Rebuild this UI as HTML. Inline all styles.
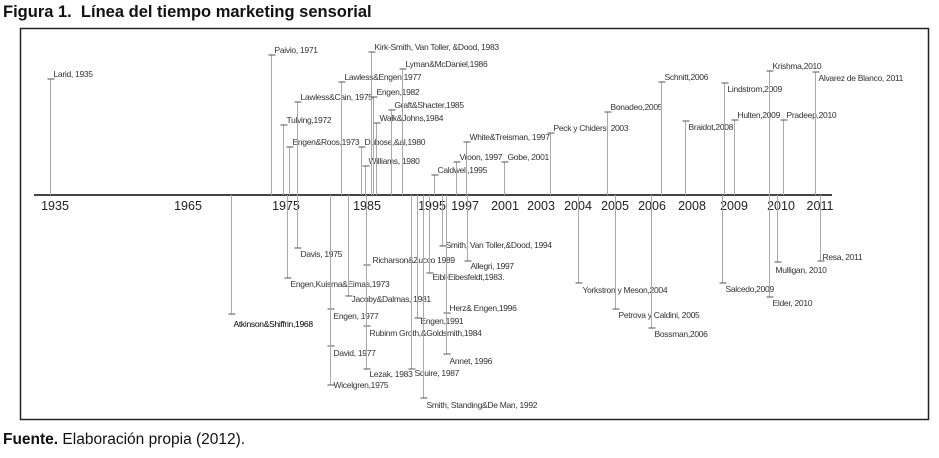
<!DOCTYPE html>
<html><head><meta charset="utf-8">
<style>
html,body{margin:0;padding:0;background:#fff;}
body{width:939px;height:458px;position:relative;overflow:hidden;font-family:"Liberation Sans",sans-serif;}
#title{position:absolute;left:3px;top:3px;font-size:16.5px;font-weight:bold;color:#111;}
#foot{position:absolute;left:3px;top:431px;font-size:15.5px;color:#111;}
svg{position:absolute;left:0;top:0;}
</style></head>
<body>
<div id="title">Figura 1.&nbsp; Línea del tiempo marketing sensorial</div>
<div id="foot"><b>Fuente.</b> Elaboración propia (2012).</div>
<svg id="chart" width="939" height="458">
<rect x="20.5" y="28.5" width="908" height="391" fill="none" stroke="#222" stroke-width="1.5"/>
</svg>
<script>
// axis year labels and their positions on the timeline (timeline units)
const yearLabels = ["1935","1965","1975","1985","1995","1997","2001","2003","2004","2005","2006","2008","2009","2010","2011"];
const yearPos = [35,168,266,347,412,445,485,521,558,595,632,672,714,761,800];
// events: label, timeline position, stem height (+ above axis, - below)
const eventNames = ["Larid, 1935","Paivio, 1971","Tulving,1972","Engen&Roos,1973","Lawless&Cain, 1975","Lawless&Engen,1977","Dubose,&al,1980","Williams, 1980","Kirk-Smith, Van Toller, &Dood, 1983","Engen,1982","Walk&Johns,1984","Graft&Shacter,1985","Lyman&McDaniel,1986","Caldwell,1995","Vroon, 1997","White&Treisman, 1997","Gobe, 2001","Peck y Chiders, 2003","Bonadeo,2005","Schnitt,2006","Braidot,2008","Lindstrom,2009","Hulten,2009","Krishma,2010","Pradeep,2010","Alvarez de Blanco, 2011",
"Atkinson&Shiffrin,1968","Engen,Kuisma&Eimas,1973","Davis, 1975","Engen, 1977","David, 1977","Wicelgren,1975","Jacoby&Dalmas, 1981","Richarson&Zucco 1989","Rubinm Groth,&Goldsmith,1984","Lezak, 1983","Squire, 1987","Engen,1991","Smith, Standing&De Man, 1992","Eibl-Eibesfeldt,1983.","Smith, Van Toller,&Dood, 1994","Herz& Engen,1996","Annet, 1996","Allegri, 1997","Yorkstron y Meson,2004","Petrova y Caldini, 2005","Bossman,2006","Salcedo,2009","Elder, 2010","Mulligan, 2010","Resa, 2011"];
const eventPos = [30,251,263,269,277,321,341,345,351,353,356,371,382,414,436,446,484,530,587,641,665,704,714,749,763,795,
211,267,277,310,310,310,328,346,346,346,391,397,403,409,422,426,426,447,558,595,631,702,749,757,800];
const eventHeight = [116,140,70,48,93,113,48,29,143,98,72,85,126,20,33,53,33,62,83,113,74,112,75,124,75,123,
-119,-83,-53,-114,-151,-190,-101,-70,-131,-174,-174,-123,-203,-78,-51,-118,-159,-66,-88,-114,-133,-88,-102,-67,-66];
// label offsets (layout)
const labelDy = [-2,-2,-2,-2,-2,-2,-2,-2,-2,-2,-2,-2,-2,-2,-2,-2,-2,-2,-2,-2,9,9,-2,-2,-2,9,
13,9,9,10,10,3,6,-2,10,8,7,6,10,7,2,-2,10,8,10,9,9,9,9,11,-1];
const labelDx = [3,3,3,3,3,3,3,3,3,3,3,3,3,3,3,3,3,3,3,3,3,3,3,3,3,3,
2,3,3,3,3,3,3,6,3,3,3,3,3,3,3,3,3,3,4,3,3,3,3,-2,2];

const svg = document.getElementById('chart');
const NS = 'http://www.w3.org/2000/svg';
const axisY = 195;
function xScale(u){ return 20 + u; }
function yScale(h){ return axisY - h; }
function mk(tag, attrs){ const e = document.createElementNS(NS, tag); for (const k in attrs) e.setAttribute(k, attrs[k]); svg.appendChild(e); return e; }

const axis = mk('line',{x1:34,y1:axisY,x2:832,y2:axisY,stroke:'#444','stroke-width':2});



yearLabels.forEach((t,i)=>{
  const tx = mk('text',{x:xScale(yearPos[i]),y:210,'text-anchor':'middle','font-size':12.5,fill:'#222','font-family':'Liberation Sans, sans-serif'});
  tx.textContent = t;
  
  
});

eventNames.forEach((n,i)=>{
  const x = xScale(eventPos[i]) + 0.5;
  const y = yScale(eventHeight[i]);
  const stem = mk('line',{x1:x,y1:axisY,x2:x,y2:y,stroke:'#aaa','stroke-width':1});
  
  
  const tick = mk('line',{x1:x-3,y1:y,x2:x+4,y2:y,stroke:'#555','stroke-width':1});
  
  
  const lb = mk('text',{x:x+labelDx[i],y:y+labelDy[i],'font-size':8.5,fill: i===26?'#000':'#333','letter-spacing':'-0.3','font-family':'Liberation Sans, sans-serif'});
  lb.textContent = n;
  
  
});
</script>
</body></html>
